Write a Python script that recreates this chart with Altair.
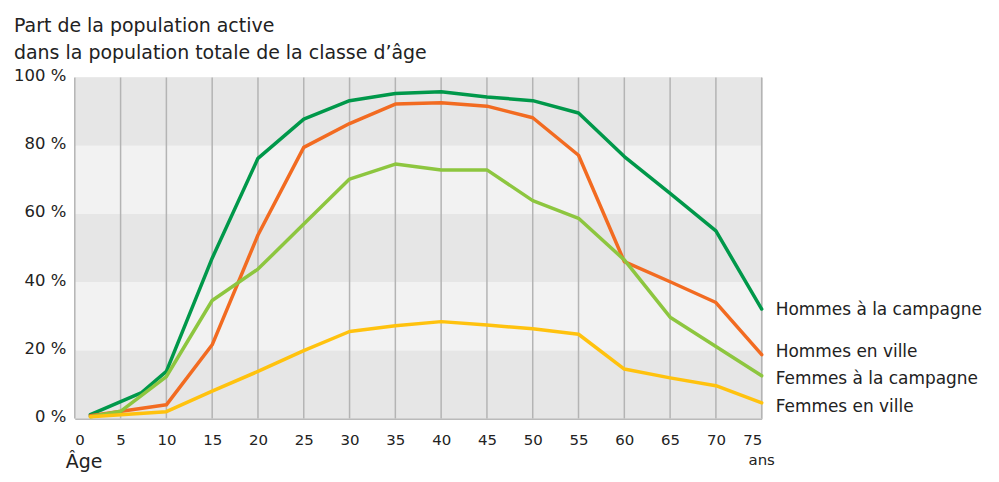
import altair as alt
import pandas as pd

FONT = "DejaVu Sans"

# ---- data ----
series = ["Hommes à la campagne", "Hommes en ville", "Femmes à la campagne", "Femmes en ville"]
colors = ["#00984a", "#f26b21", "#8dc63f", "#ffc20e"]

ages_hc = [1.7, 7.3, 10, 15, 20, 25, 30, 35, 40, 45, 50, 55, 60, 65, 70, 75]
vals_hc = [1.1, 7.6, 13.8, 47.0, 76.3, 87.8, 93.2, 95.3, 95.8, 94.3, 93.2, 89.6, 76.8, 66.0, 55.0, 32.1]

ages_hv = [1.7, 10, 15, 20, 25, 30, 35, 40, 45, 50, 55, 60, 65, 70, 75]
vals_hv = [0.8, 4.0, 21.6, 53.8, 79.5, 86.5, 92.2, 92.6, 91.6, 88.2, 77.2, 46.0, 40.1, 34.0, 18.7]

ages_fc = [1.7, 5, 10, 15, 20, 25, 30, 35, 40, 45, 50, 55, 60, 65, 70, 75]
vals_fc = [0.5, 2.1, 12.3, 34.6, 43.8, 57.0, 70.2, 74.6, 72.9, 72.9, 63.9, 58.7, 46.5, 29.7, 21.1, 12.5]

ages_fv = [1.7, 10, 15, 20, 25, 30, 35, 40, 45, 50, 55, 60, 65, 70, 75]
vals_fv = [0.5, 2.0, 8.0, 13.8, 19.9, 25.5, 27.2, 28.4, 27.4, 26.3, 24.7, 14.5, 11.9, 9.6, 4.6]

label_y = [31.9, 19.6, 11.7, 3.5]

x_ticks = list(range(0, 80, 5))
y_ticks = [0, 20, 40, 60, 80, 100]
band_lo = [0, 20, 40, 60, 80]
band_hi = [20, 40, 60, 80, 100]
band_fill = ["#e6e6e6", "#f2f2f2", "#e6e6e6", "#f2f2f2", "#e6e6e6"]

# ---- tables ----
rows = []
for name, ages, vals in zip(series, [ages_hc, ages_hv, ages_fc, ages_fv],
                            [vals_hc, vals_hv, vals_fc, vals_fv]):
    for a, v in zip(ages, vals):
        rows.append({"serie": name, "age": a, "val": v})
df = pd.DataFrame(rows)
bands = pd.DataFrame({"lo": band_lo, "hi": band_hi, "fill": band_fill})
grid = pd.DataFrame({"age": x_ticks})
labels = pd.DataFrame({"serie": series, "age": [75] * 4, "val": label_y})

W, H = 689, 342
xs = alt.Scale(domain=[0, 75], nice=False, zero=False)
ys = alt.Scale(domain=[0, 100], nice=False)
col = alt.Scale(domain=series, range=colors)

y_axis = alt.Axis(
    values=y_ticks, title=None, grid=False, ticks=False, domain=False,
    labelExpr="datum.value + ' %'", labelFont=FONT, labelFontSize=16.5,
    labelColor="#222222", labelPadding=9, labelOffset=-2,
)

band_layer = alt.Chart(bands).mark_rect().encode(
    x=alt.value(0), x2=alt.value(W),
    y=alt.Y("lo:Q", scale=ys, axis=y_axis), y2="hi:Q",
    color=alt.Color("fill:N", scale=None),
)

grid_layer = alt.Chart(grid).mark_rule(color="#b4b4b4", strokeWidth=1.5).encode(
    x=alt.X("age:Q", scale=xs, axis=alt.Axis(
        values=x_ticks, title=None, grid=False, ticks=False, domain=True,
        domainColor="#a8a8a8", domainWidth=1.5,
        labelFont=FONT, labelFontSize=15, labelColor="#222222", labelPadding=14,
    )),
    y=alt.value(0), y2=alt.value(H),
)

lines = alt.Chart(df).mark_line(strokeWidth=3.5, strokeJoin="round", strokeCap="round").encode(
    x=alt.X("age:Q", scale=xs),
    y=alt.Y("val:Q", scale=ys, axis=y_axis),
    color=alt.Color("serie:N", scale=col, legend=None),
    detail="serie:N",
)

label_layer = alt.Chart(labels).mark_text(
    align="left", baseline="middle", dx=14, font=FONT, fontSize=17, color="#222222"
).encode(
    x=alt.X("age:Q", scale=xs),
    y=alt.Y("val:Q", scale=ys, axis=y_axis),
    text="serie:N",
)

title_df = pd.DataFrame({"t": ["Part de la population active",
                               "dans la population totale de la classe d\u2019âge"],
                         "yy": [-46, -19]})
title_layer = alt.Chart(title_df).mark_text(
    align="left", baseline="alphabetic", font=FONT, fontSize=19, color="#222222"
).encode(x=alt.value(-61), y=alt.Y("yy:Q", scale=None), text="t:N")

age_layer = alt.Chart(pd.DataFrame({"t": ["Âge"]})).mark_text(
    align="left", baseline="alphabetic", font=FONT, fontSize=19, color="#222222"
).encode(x=alt.value(-9), y=alt.value(392), text="t:N")

ans_layer = alt.Chart(pd.DataFrame({"t": ["ans"]})).mark_text(
    align="center", baseline="middle", font=FONT, fontSize=15, color="#222222"
).encode(x=alt.value(W), y=alt.value(384), text="t:N")

chart = alt.layer(
    band_layer, grid_layer, lines, label_layer, title_layer, age_layer, ans_layer
).properties(
    width=W, height=H,
    padding={"left": 67, "top": 69, "right": 230, "bottom": 55},
    autosize=alt.AutoSizeParams(type="none"),
).configure_view(stroke=None).configure(background="white")

chart.save("out.html", embed_options={"renderer": "svg", "actions": False})
